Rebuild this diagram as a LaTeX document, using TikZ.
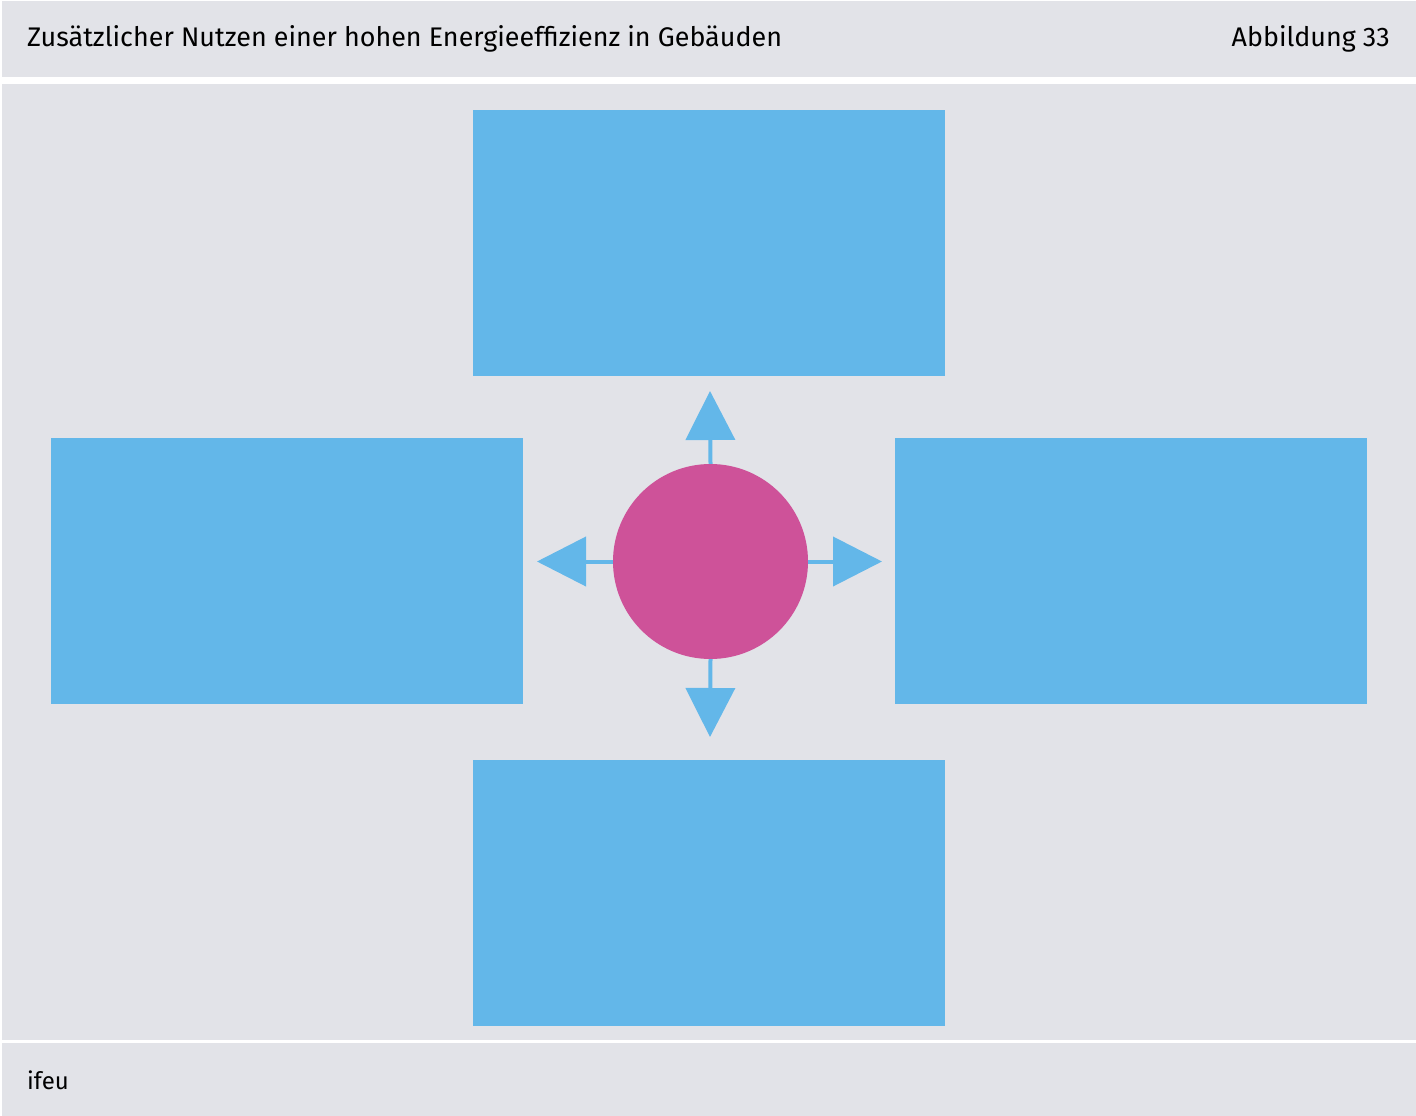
\documentclass[tikz,border=0pt]{standalone}
\usepackage{fontspec}
\setmainfont{Fira Sans}
\usetikzlibrary{arrows.meta}
\definecolor{panel}{HTML}{E2E3E8}
\definecolor{boxblue}{HTML}{63B7E9}
\definecolor{hub}{HTML}{CE5299}
\begin{document}
\begin{tikzpicture}[x=1pt,y=-1pt,
  panelbg/.style={fill=panel,draw=none},
  bluebox/.style={fill=boxblue,draw=none,rectangle,inner sep=0pt,minimum width=472pt,minimum height=266pt},
  hubnode/.style={fill=hub,draw=none,circle,inner sep=0pt,minimum size=195pt},
  spoke/.style={draw=boxblue,line width=4pt,-{Triangle[length=49pt,width=49pt,fill=boxblue]}},
  headtext/.style={font=\fontsize{26.9}{32}\selectfont,inner sep=0pt,anchor=base west}]
\useasboundingbox (0,0) rectangle (1416,1116);
\fill[white] (0,0) rectangle (1416,1116);
\fill[panelbg] (2,1) rectangle (1416,77);
\fill[panelbg] (2,84) rectangle (1416,1040);
\fill[panelbg] (2,1043) rectangle (1416,1116);
\node[headtext] (title) at (27,47) {Zusätzlicher Nutzen einer hohen Energieeffizienz in Gebäuden};
\node[headtext,anchor=base east] (fig) at (1390,47) {Abbildung 33};
\node[headtext,font=\fontsize{24}{29}\selectfont] (src) at (27,1089) {ifeu};
\node[bluebox] (top) at (708.5,243) {};
\node[bluebox] (left) at (287,571) {};
\node[bluebox] (right) at (1131,571) {};
\node[bluebox] (bottom) at (709,892.5) {};
\node[hubnode] (hub) at (710.5,561.5) {};
\coordinate (tipU) at (710,391);
\coordinate (tipD) at (710,737);
\coordinate (tipL) at (537,561.5);
\coordinate (tipR) at (882,561.5);
\draw[spoke] (hub.north) -- (tipU);
\draw[spoke] (hub.south) -- (tipD);
\draw[spoke] (hub.west) -- (tipL);
\draw[spoke] (hub.east) -- (tipR);
\end{tikzpicture}
\end{document}
